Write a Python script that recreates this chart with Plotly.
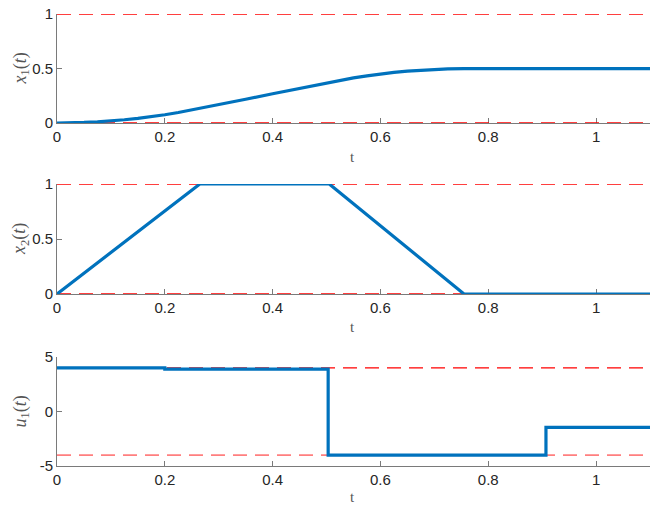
import plotly.graph_objects as go

# ---- data ----
t_x1 = [0, 0.025, 0.05, 0.075, 0.1, 0.125, 0.15, 0.175, 0.2, 0.225, 0.25, 0.265, 0.3, 0.35, 0.4, 0.45, 0.5, 0.505,
        0.525, 0.55, 0.575, 0.6, 0.625, 0.65, 0.675, 0.7, 0.725, 0.755, 0.8, 0.9, 1.0, 1.1]
x1 = [0, 0.001, 0.005, 0.011, 0.019, 0.030, 0.043, 0.058, 0.076, 0.096, 0.119, 0.133, 0.168, 0.218, 0.268, 0.318, 0.368, 0.373,
      0.392, 0.414, 0.433, 0.450, 0.464, 0.476, 0.485, 0.492, 0.496, 0.498, 0.498, 0.498, 0.498, 0.498]

t_x2 = [0, 0.265, 0.505, 0.755, 1.1]
x2 = [0, 1, 1, 0, 0]

t_u = [0, 0.2, 0.2, 0.503, 0.503, 0.907, 0.907, 1.1]
u1 = [4.0, 4.0, 3.88, 3.88, -4.0, -4.0, -1.45, -1.45]

bounds_x1 = [0, 1]
bounds_x2 = [0, 1]
bounds_u1 = [-4, 4]

y_ticks_x = [0, 0.5, 1]
y_ticks_u = [-5, 0, 5]
x_ticks = [0, 0.2, 0.4, 0.6, 0.8, 1]
x_range = [0, 1.1]

BLUE = "#0072BD"
RED = "#FF0000"
AX = "#7a7a7a"
TXT = "#262626"

W, H = 650, 507
L = 57

def pfy(py):
    return (H - py) / H

def pfx(px):
    return (px - L) / (W - L)

domains = [
    [pfy(123), pfy(14)],
    [pfy(294), pfy(184)],
    [pfy(466), pfy(357)],
]

fig = go.Figure()

panels = [
    (t_x1, x1, bounds_x1, [0, 1], y_ticks_x, ["0", "0.5", "1"], "<i>x</i><sub>1</sub>(<i>t</i>)"),
    (t_x2, x2, bounds_x2, [0, 1], y_ticks_x, ["0", "0.5", "1"], "<i>x</i><sub>2</sub>(<i>t</i>)"),
    (t_u, u1, bounds_u1, [-5, 5], y_ticks_u, ["-5", "0", "5"], "<i>u</i><sub>1</sub>(<i>t</i>)"),
]

for i, (tt, yy, bnds, yr, ytv, ytt, lab) in enumerate(panels):
    n = i + 1
    xa = "x" if n == 1 else f"x{n}"
    ya = "y" if n == 1 else f"y{n}"
    for j, b in enumerate(bnds):
        col, w = RED, 1.3
        if n == 3 and j == 0:
            col, w = "#FF7F7F", 1.6
        fig.add_trace(go.Scatter(x=x_range, y=[b, b], mode="lines",
                                 line=dict(color=col, width=w, dash="14px,8px"),
                                 xaxis=xa, yaxis=ya, showlegend=False, hoverinfo="skip",
                                 cliponaxis=False))
    fig.add_trace(go.Scatter(x=tt, y=yy, mode="lines",
                             line=dict(color=BLUE, width=3.2),
                             xaxis=xa, yaxis=ya, showlegend=False, cliponaxis=False))

    xkey = "xaxis" if n == 1 else f"xaxis{n}"
    ykey = "yaxis" if n == 1 else f"yaxis{n}"
    common = dict(ticks="inside", ticklen=5, tickcolor=AX, tickwidth=1,
                  showline=True, linecolor=AX, linewidth=1, layer="below traces",
                  showgrid=False, zeroline=False, automargin=False, ticklabeloverflow="allow",
                  tickfont=dict(family="Liberation Sans, Arial", size=15, color=TXT))
    fig.layout[xkey] = dict(domain=[0, 1], range=x_range, anchor=ya,
                            tickvals=x_ticks, ticktext=["0", "0.2", "0.4", "0.6", "0.8", "1"], **common)
    fig.layout[ykey] = dict(domain=domains[i], range=yr, anchor=xa,
                            tickvals=ytv, ticktext=ytt, **common)
    ymid = (domains[i][0] + domains[i][1]) / 2
    fig.add_annotation(text=lab, xref="paper", yref="paper",
                       x=pfx(21), y=ymid, textangle=-90, showarrow=False,
                       xanchor="center", yanchor="middle",
                       font=dict(family="Liberation Serif, DejaVu Serif", size=18, color="#555555"))
    label_py = [157, 327, 497][i]
    fig.add_annotation(text="t", xref="paper", yref="paper",
                       x=pfx(352), y=pfy(label_py), showarrow=False,
                       xanchor="center", yanchor="middle",
                       font=dict(family="Liberation Serif, DejaVu Serif", size=15, color="#555555"))

fig.update_layout(width=W, height=H, margin=dict(l=L, r=0, t=0, b=0, autoexpand=False),
                  paper_bgcolor="white", plot_bgcolor="white", hovermode=False)

fig.write_html("out.html", config={"displayModeBar": False},
               post_script="document.body.style.margin='0px';")
